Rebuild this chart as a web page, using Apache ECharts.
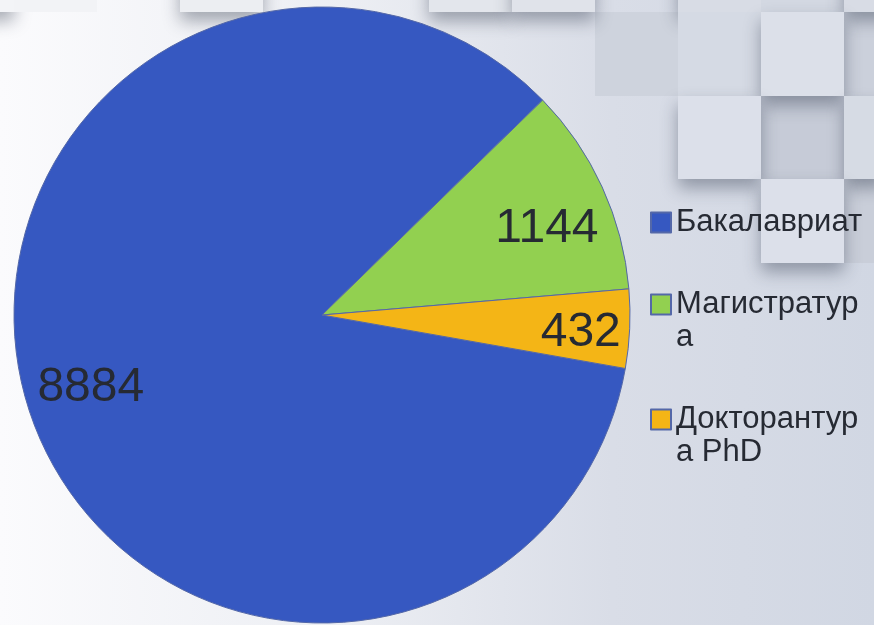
<!DOCTYPE html>
<html>
<head>
<meta charset="utf-8">
<script src="https://cdn.jsdelivr.net/npm/echarts@6/dist/echarts.min.js"></script>
<style>
html,body{margin:0;padding:0;background:#fff;}
#chart{width:874px;height:625px;}
</style>
</head>
<body>
<div id="chart"></div>
<script>
// ---- data ----
const categories = ['Бакалавриат', 'Магистратура', 'Докторантура PhD'];
const values = [8884, 1144, 432];
const legendLabels = ['Бакалавриат', 'Магистратур\nа', 'Докторантур\nа PhD'];
const colors = ['#3658C1', '#92D050', '#F4B516'];

const pieData = categories.map((n, i) => ({ name: n, value: values[i], itemStyle: { color: colors[i] } }));
const labelData = categories.map((n, i) => ({ name: n, value: values[i] }));

// small nudges of value labels (best-fit placement of the original)
const labelNudge = [[2, 1], [3, 15], [15, 7]];

// decorative background tiles
function tile(x, y, w, h, color, raised) {
  return {
    type: 'rect', silent: true, z: -10,
    shape: { x: x, y: y, width: w, height: h },
    style: raised ? { fill: color, shadowBlur: 16, shadowOffsetY: 9, shadowColor: 'rgba(40,50,70,0.4)' } : { fill: color }
  };
}
const tiles = [
  tile(595, 12, 83, 84, '#ced3dd', false),
  tile(844, 12, 40, 84, '#cbd0db', false),
  tile(761, 96, 83, 83, '#c6cbd7', false),
  tile(844, 179, 40, 84, '#c9ced9', false),
  tile(-69, -72, 83, 84, '#f3f4f7', true),
  tile(14, -72, 83, 84, '#f2f3f6', false),
  tile(180, -72, 83, 84, '#eceef2', true),
  tile(429, -72, 83, 84, '#e3e6ec', true),
  tile(512, -72, 83, 84, '#e0e3ea', true),
  tile(678, -72, 83, 84, '#d8dce5', true),
  tile(761, -72, 83, 84, '#d3d8e2', false),
  tile(844, -72, 83, 84, '#d8dce5', true),
  tile(678, 12, 83, 84, '#d5dae4', false),
  tile(761, 12, 83, 84, '#dce0e9', true),
  tile(678, 96, 83, 83, '#dce0ea', true),
  tile(844, 96, 40, 83, '#d6dbe4', true),
  tile(761, 179, 83, 84, '#dce0ea', true)
];

const chart = echarts.init(document.getElementById('chart'), null, { renderer: 'canvas' });
chart.setOption({
  animation: false,
  backgroundColor: {
    type: 'linear', x: 0, y: 0, x2: 1, y2: 0,
    colorStops: [
      { offset: 0, color: '#fbfbfd' },
      { offset: 0.4, color: '#eceef3' },
      { offset: 0.7, color: '#d9dde7' },
      { offset: 1, color: '#d1d7e3' }
    ]
  },
  graphic: tiles,
  legend: {
    orient: 'vertical',
    left: 650,
    top: 206,
    padding: 0,
    itemWidth: 20,
    itemHeight: 20,
    itemGap: 16,
    icon: 'rect',
    data: categories,
    formatter: function (name) {
      const t = legendLabels[categories.indexOf(name)];
      // keep first line aligned with the marker (extra empty line above multi-line entries)
      return t.indexOf('\n') >= 0 ? '\n' + t : t;
    },
    textStyle: {
      fontFamily: 'Liberation Sans',
      fontSize: 31,
      lineHeight: 33,
      color: '#262a33'
    }
  },
  series: [
    {
      type: 'pie',
      center: [322, 315],
      radius: [0, 308],
      startAngle: -10,
      clockwise: true,
      avoidLabelOverlap: false,
      data: pieData,
      itemStyle: { borderColor: '#5468a8', borderWidth: 1 },
      label: { show: false },
      labelLine: { show: false },
      emphasis: { disabled: true }
    },
    {
      type: 'pie',
      center: [322, 315],
      radius: [174, 308],
      startAngle: -10,
      clockwise: true,
      silent: true,
      avoidLabelOverlap: false,
      data: labelData,
      itemStyle: { color: 'rgba(0,0,0,0)', borderWidth: 0 },
      label: {
        show: true,
        position: 'inside',
        formatter: '{c}',
        fontFamily: 'Liberation Sans',
        fontSize: 48,
        color: '#262a33'
      },
      labelLayout: function (p) {
        const n = labelNudge[p.dataIndex];
        return { dx: n[0], dy: n[1] };
      },
      labelLine: { show: false },
      emphasis: { disabled: true }
    }
  ]
});
</script>
</body>
</html>
